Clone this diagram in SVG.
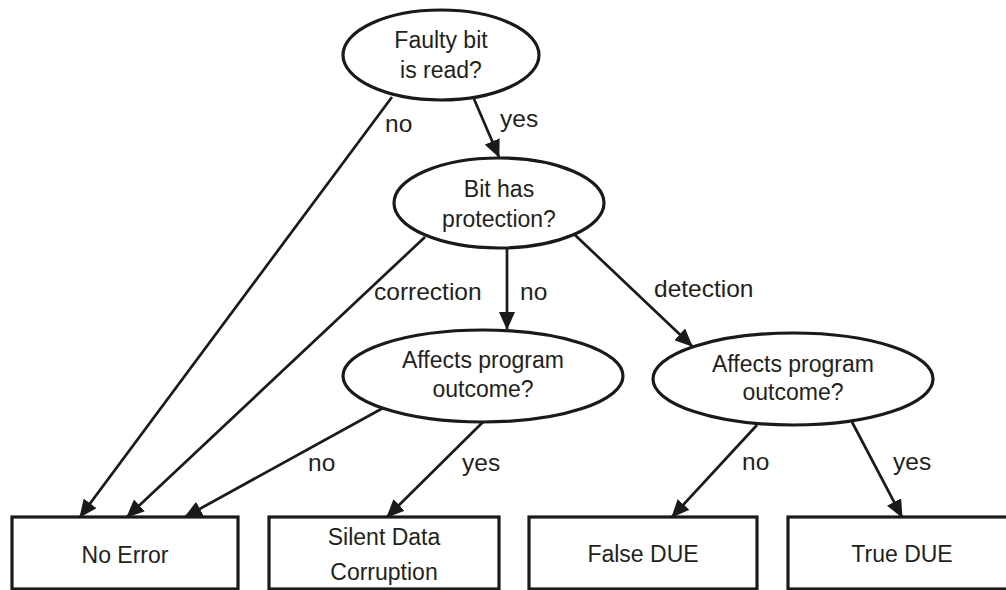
<svg xmlns="http://www.w3.org/2000/svg" width="1006" height="590" viewBox="0 0 1006 590">
<defs>
<marker id="ah" markerUnits="userSpaceOnUse" markerWidth="18" markerHeight="16" refX="17" refY="8" orient="auto">
<path d="M0,0 L18,8 L0,16 z" fill="#1a1a1a"/>
</marker>
<style>
.n{fill:#fff;stroke:#1a1a1a;stroke-width:3.2}
.t{font-family:"Liberation Sans",Arial,sans-serif;font-size:23px;fill:#231f20;text-anchor:middle}
.l{font-family:"Liberation Sans",Arial,sans-serif;font-size:24.5px;fill:#231f20}
.c{fill:none;stroke:#1a1a1a;stroke-width:2.7;marker-end:url(#ah)}
</style>
</defs>
<rect width="1006" height="590" fill="#fff"/>
<g id="connectors">
<line class="c" x1="392" y1="97" x2="80" y2="517"/>
<line class="c" x1="474" y1="99" x2="499" y2="157"/>
<line class="c" x1="425" y1="237" x2="127" y2="517"/>
<line class="c" x1="507" y1="249" x2="507" y2="329"/>
<line class="c" x1="575" y1="235" x2="692" y2="346"/>
<line class="c" x1="383" y1="408" x2="185" y2="517"/>
<line class="c" x1="483" y1="422" x2="387" y2="517"/>
<line class="c" x1="757" y1="425" x2="672" y2="517"/>
<line class="c" x1="852" y1="422" x2="902" y2="517"/>
<text class="l" x="385" y="132">no</text>
<text class="l" x="500" y="127">yes</text>
<text class="l" x="374" y="300">correction</text>
<text class="l" x="520" y="300">no</text>
<text class="l" x="654" y="297">detection</text>
<text class="l" x="308" y="471">no</text>
<text class="l" x="462" y="471">yes</text>
<text class="l" x="742" y="470">no</text>
<text class="l" x="893" y="470">yes</text>
</g>
<g id="faulty">
<ellipse class="n" cx="441" cy="55" rx="98" ry="45"/>
<text class="t" x="441" y="48">Faulty bit</text>
<text class="t" x="441" y="78">is read?</text>
</g>
<g id="protection">
<ellipse class="n" cx="499" cy="203" rx="105" ry="45"/>
<text class="t" x="499" y="197">Bit has</text>
<text class="t" x="499" y="227">protection?</text>
</g>
<g id="affects1">
<ellipse class="n" cx="483" cy="376" rx="140" ry="46"/>
<text class="t" x="483" y="368">Affects program</text>
<text class="t" x="483" y="397">outcome?</text>
</g>
<g id="affects2">
<ellipse class="n" cx="793" cy="379" rx="140" ry="46"/>
<text class="t" x="793" y="372">Affects program</text>
<text class="t" x="793" y="400">outcome?</text>
</g>
<g id="noerror">
<rect class="n" x="12" y="517" width="226" height="72"/>
<text class="t" x="125" y="563">No Error</text>
</g>
<g id="sdc">
<rect class="n" x="269" y="517" width="230" height="72"/>
<text class="t" x="384" y="545">Silent Data</text>
<text class="t" x="384" y="580">Corruption</text>
</g>
<g id="falsedue">
<rect class="n" x="529" y="517" width="228" height="72"/>
<text class="t" x="643" y="562">False DUE</text>
</g>
<g id="truedue">
<rect class="n" x="788" y="517" width="228" height="72"/>
<text class="t" x="902" y="562">True DUE</text>
</g>
</svg>
